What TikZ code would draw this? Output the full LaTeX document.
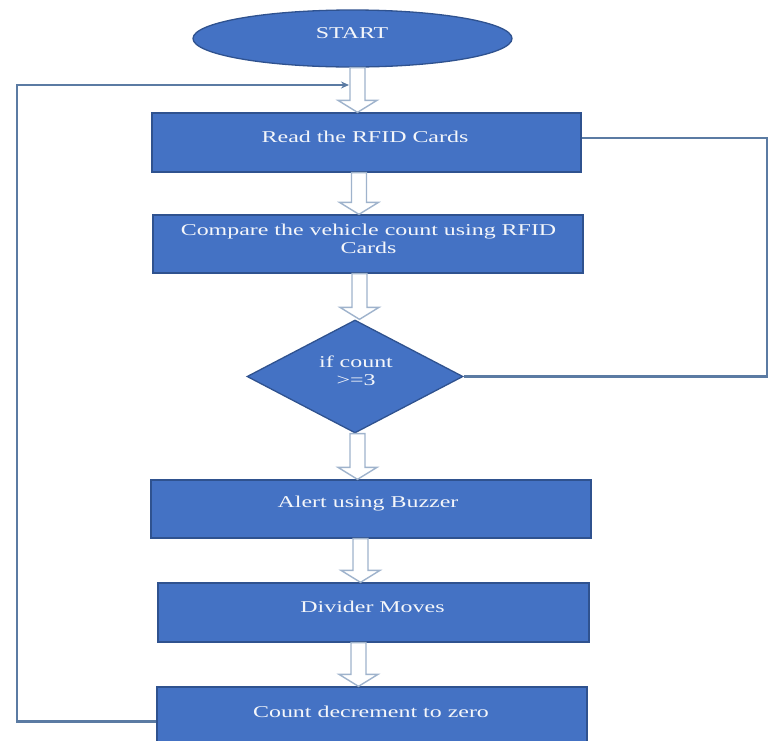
\documentclass[tikz,border=0pt]{standalone}
\usepackage{fontspec}
\newfontfamily\reffont[FakeStretch=1.45]{Liberation Serif}
\usetikzlibrary{shapes.geometric,arrows.meta,calc}
\definecolor{boxblue}{HTML}{4472C4}
\definecolor{boxedge}{HTML}{2F528F}
\definecolor{linecol}{HTML}{5B7BA3}
\definecolor{hollowedge}{HTML}{9FB3CC}
\definecolor{txtcol}{HTML}{F4F6FA}
\newcommand\harrow[3]{%
  \path[hollowarrow] let \p1=(#2.south), \p2=(#3.north) in
    (#1-7.5,\y1) -- (#1+7.5,\y1) -- (#1+7.5,\y2+12pt) -- (#1+19.5,\y2+12pt)
    -- (#1,\y2) -- (#1-19.5,\y2+12pt) -- (#1-7.5,\y2+12pt) -- cycle;}
\tikzset{
  box/.style={rectangle, draw=boxedge, line width=1.3pt, fill=boxblue, inner sep=0pt},
  startbox/.style={ellipse, draw=boxedge, line width=1.3pt, fill=boxblue, inner sep=0pt,
    minimum width=319pt, minimum height=57pt},
  decbox/.style={diamond, aspect=1.91, draw=boxedge, line width=1.3pt, fill=boxblue, inner sep=0pt,
    minimum width=216pt, minimum height=113pt},
  lbl/.style={text=txtcol, font=\reffont\fontsize{16.5}{18.5}\selectfont, align=center, inner sep=0pt},
  conn/.style={draw=linecol, line width=2.4pt},
  hollowarrow/.style={draw=hollowedge, fill=white, line width=1.4pt, line join=miter},
}
\begin{document}
\begin{tikzpicture}[x=1pt, y=-1pt]
\useasboundingbox (0,0) rectangle (769,740);
% shapes
\node[startbox] (start) at (352.5,38.5) {};
\node[box, minimum width=429pt, minimum height=59pt] (read) at (366.5,142.5) {};
\node[box, minimum width=430pt, minimum height=58pt] (cmp) at (368,244) {};
\node[decbox] (dec) at (355,376.5) {};
\node[box, minimum width=440pt, minimum height=58pt] (alert) at (371,509) {};
\node[box, minimum width=431pt, minimum height=59pt] (div) at (373.5,612.5) {};
\node[box, minimum width=430pt, minimum height=69pt] (cnt) at (372,721.5) {};
% texts
\node[lbl] (startt) at (352,33) {START};
\node[lbl] (readt) at (365,137) {Read the RFID Cards};
\node[lbl] (cmpt) at (368.5,239) {Compare the vehicle count using RFID\\Cards};
\node[lbl] (dect) at (356,371) {if count\\>=3};
\node[lbl] (alertt) at (368,504) {Alert using Buzzer};
\node[lbl] (divt) at (372.5,607) {Divider Moves};
\node[lbl] (cntt) at (371,712) {Count decrement to zero};
% hollow arrows
\harrow{357.5}{start}{read}
\harrow{359}{read}{cmp}
\harrow{359.5}{cmp}{dec}
\harrow{357.5}{dec}{alert}
\harrow{360.5}{alert}{div}
\harrow{358.5}{div}{cnt}
% loop back
\coordinate (lt) at (17,85);
\coordinate (loopend) at (349,85);
\draw[conn, -{Stealth[length=8pt,width=7pt]}] (cnt.west) -| (lt) -- (loopend);
% right connector
\coordinate (rc) at (767,376.5);
\draw[conn] ([yshift=4.5pt]read.east) -| (rc) -- (dec.east);
\end{tikzpicture}
\end{document}
